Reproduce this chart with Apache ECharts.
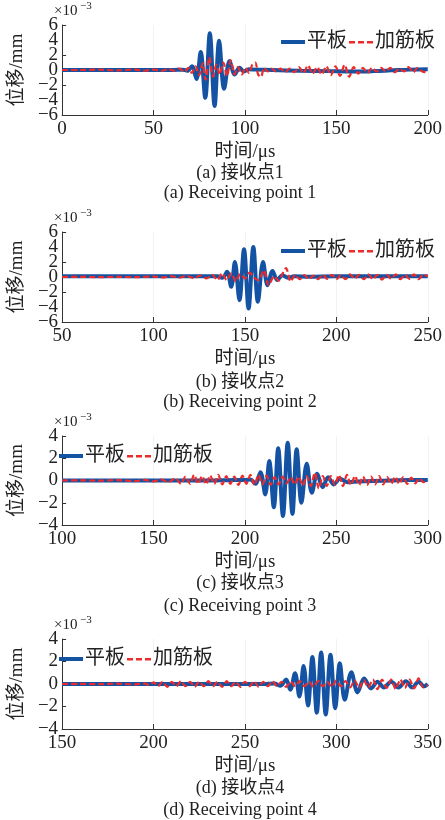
<!DOCTYPE html>
<html>
<head>
<meta charset="utf-8">
<script src="https://cdn.jsdelivr.net/npm/echarts@6/dist/echarts.min.js"></script>
<style>
  html, body { margin: 0; padding: 0; background: #fff; }
  #main { width: 445px; height: 820px; }
</style>
</head>
<body>
<div id="main"></div>
<script>
// 四个接收点的位移时程（单位 ×10^-3 mm）
var tBlue1 = [0, 20, 40, 60, 66, 68.5, 71, 73.5, 75.8, 78.3, 80.8, 83.4, 85.9, 88.6, 91.6, 94.4, 97, 99.5, 102, 106, 115, 130, 145, 160, 170, 180, 190, 200];
var vBlue1 = [0, 0, 0, 0, 0.05, -0.1, 0.5, -1.2, 2.4, -3.7, 4.9, -4.8, 3.9, -2.5, 1.2, -0.6, 0.3, -0.2, 0.1, 0.05, 0, -0.1, -0.15, -0.2, -0.15, -0.05, 0.05, 0.1];
var tRed1 = [0, 10, 20, 30, 40, 45, 50, 55, 58, 61, 64, 67, 69, 71, 73, 75, 76.8, 78.5, 80.5, 82.5, 84.3, 86.2, 88.2, 90.2, 92.2, 94.3, 96.2, 98.3, 100.2, 102.2, 104, 105.7, 107.2, 108.8, 110.5, 112.5, 114.5, 117, 119.5, 122, 124.5, 127, 129.5, 132, 134.5, 137, 139.5, 142, 144.5, 147, 149.5, 152, 154.5, 157, 159.5, 162, 164.5, 167, 169.5, 172, 174.5, 177, 179.5, 182, 184.5, 187, 189.5, 192, 194.5, 197, 200];
var vRed1 = [0, 0, 0.05, -0.05, 0.05, -0.1, 0.05, -0.1, 0.15, -0.1, 0.2, -0.25, 0.3, -0.4, 0.5, -0.7, 0.9, -1.3, 1.7, -0.9, 0.7, -0.6, 1.0, -0.8, 1.3, -0.6, 0.4, -0.6, 0.3, -0.4, 0.7, 1.0, -0.6, -0.9, 0.3, -0.2, 0.2, -0.2, 0.2, -0.3, 0.2, -0.3, 0.4, -0.4, 0.6, -0.5, 0.4, -0.6, 0.5, -0.7, 0.5, -0.8, 0.7, -0.9, 0.4, -0.5, 0.3, -0.4, 0.3, -0.2, 0.3, -0.2, 0.3, -0.3, 0.2, -0.2, 0.4, -0.3, 0.3, -0.2, -0.3];

var tBlue2 = [50, 80, 110, 130, 135, 137.8, 140.2, 142.5, 144.5, 147, 149.5, 152, 154.6, 157.1, 159.9, 162.4, 165.1, 167.7, 170.5, 173.5, 177, 185, 200, 220, 250];
var vBlue2 = [0.1, 0.1, 0.1, 0.1, 0.1, -0.1, 0.7, -1.3, 2.0, -3.1, 3.7, -4.2, 4.0, -3.3, 2.0, -1.1, 0.8, -0.4, 0.25, -0.1, 0.1, 0.05, 0.1, 0.1, 0.1];
var tRed2 = [50, 60, 70, 80, 90, 100, 105, 110, 114, 118, 122, 126, 129, 132, 135, 137.5, 140, 142.5, 145, 147.5, 150, 152.5, 155, 157.5, 160.3, 163, 166, 168.5, 170.5, 172.5, 175, 177.5, 180, 182.5, 185, 187.5, 190, 192.5, 195, 197.5, 200, 202.5, 205, 207.5, 210, 212.5, 215, 217.5, 220, 222.5, 225, 227.5, 230, 232.5, 235, 237.5, 240, 242.5, 245, 247.5, 250];
var vRed2 = [0, 0.02, -0.02, 0.02, -0.02, 0.05, -0.05, 0.1, -0.1, 0.15, -0.15, 0.2, -0.2, 0.3, -0.4, 0.5, -0.4, 0.5, -0.6, 0.4, -0.2, 0.6, -0.1, -0.4, 0.9, -1.1, 0.1, -0.5, 0.4, 1.2, -0.6, 0.3, -0.3, 0.25, -0.3, 0.2, -0.3, 0.3, -0.25, 0.3, -0.3, 0.25, -0.3, 0.35, -0.25, 0.3, -0.3, 0.35, -0.3, 0.3, -0.35, 0.3, -0.25, 0.35, -0.3, 0.3, -0.25, 0.35, -0.3, 0.3, 0.1];

var tBlue3 = [100, 130, 160, 180, 195, 200, 203, 205.8, 208.5, 211.1, 213.3, 215.8, 218.2, 220.8, 223.4, 226, 228.3, 230.9, 233.8, 236.6, 239.5, 242.5, 245.5, 248.5, 252, 256, 262, 270, 280, 290, 300];
var vBlue3 = [0, 0, 0, 0, 0.05, 0.05, 0.1, -0.3, 0.75, -1.25, 1.75, -2.4, 2.9, -3.2, 3.4, -3.0, 2.8, -2.0, 1.5, -1.1, 0.6, -0.6, 0.3, -0.35, 0.15, -0.15, -0.1, -0.05, 0, 0.05, 0.05];
var tRed3 = [100, 110, 120, 130, 140, 145, 150, 154, 158, 162, 165, 167.5, 170, 172.2, 174.4, 176.6, 178.8, 181, 183.2, 185.4, 187.6, 189.8, 192, 194.2, 196.4, 198.6, 200.8, 203, 205.2, 207.4, 209.6, 211.8, 214, 216.2, 218.4, 220.6, 222.8, 225, 227.2, 229.4, 231.6, 233.8, 236, 238.2, 240.4, 242.6, 244.8, 247, 249.2, 251.4, 253.6, 255.8, 258, 260.2, 262.4, 264.6, 266.8, 269, 271.2, 273.4, 275.6, 277.8, 280, 282.2, 284.4, 286.6, 288.8, 291, 293.2, 295.4, 297.6, 300];
var vRed3 = [0, 0.02, -0.02, 0.03, -0.05, 0.05, -0.08, 0.1, -0.15, 0.2, -0.3, 0.35, -0.3, 0.5, -0.3, 0.4, -0.35, 0.45, -0.3, 0.5, -0.35, 0.4, -0.3, 0.35, -0.4, 0.45, -0.3, 0.5, -0.4, 0.5, -0.35, 0.45, -0.4, 0.3, -0.35, 0.35, -0.25, 0.3, -0.35, 0.35, -0.45, 0.4, -0.5, 0.7, -0.7, 0.4, -0.5, 0.4, -0.4, 0.5, -0.5, 0.5, -0.4, 0.4, -0.4, 0.35, -0.4, 0.35, -0.35, 0.4, -0.35, 0.3, -0.3, 0.35, -0.3, 0.3, -0.3, 0.25, -0.25, 0.2, -0.15, 0.05];

var tBlue4 = [150, 180, 210, 240, 260, 266, 269.5, 272.5, 274.8, 277.4, 279.8, 282.1, 284.5, 286.9, 289.3, 291.7, 294.2, 296.8, 299.4, 301.9, 304.6, 308.2, 311.6, 315.2, 319, 322.5, 326, 330, 334, 338, 341.5, 345, 348, 350];
var vBlue4 = [0, 0, 0, 0, 0, 0.05, -0.15, 0.4, -0.5, 0.95, -1.1, 1.6, -1.9, 2.4, -2.55, 2.8, -2.7, 2.6, -2.15, 1.85, -1.4, 1.05, -0.75, 0.5, -0.4, 0.2, -0.3, 0.2, -0.3, 0.25, -0.3, 0.2, -0.2, 0];
var tRed4 = [150, 160, 170, 180, 190, 195, 197.5, 200, 202.5, 205, 207.5, 210, 212.5, 215, 217.5, 220, 222.5, 225, 227.5, 230, 232.5, 235, 237.5, 240, 242.5, 245, 247.5, 250, 252.5, 255, 257.5, 260, 262.5, 265, 267.5, 270, 272.5, 275, 277.5, 280, 282.5, 285, 287.5, 290, 292.5, 295, 297.5, 300, 302.5, 305, 307.5, 310, 312.5, 315, 317.5, 320, 322.5, 325, 327.5, 330, 332.5, 335, 337.5, 340, 342.5, 345, 347.5, 350];
var vRed4 = [0, 0.02, -0.02, 0.03, -0.03, 0.05, -0.1, 0.15, -0.2, 0.2, -0.25, 0.2, -0.2, 0.25, -0.2, 0.2, -0.25, 0.2, -0.2, 0.25, -0.2, 0.2, -0.25, 0.25, -0.2, 0.2, -0.25, 0.2, -0.2, 0.25, -0.25, 0.2, -0.2, 0.25, -0.2, 0.2, -0.25, 0.2, -0.2, 0.25, -0.2, 0.2, -0.25, 0.25, -0.2, 0.2, -0.25, 0.3, -0.2, 0.25, -0.3, 0.3, -0.35, 0.35, -0.3, 0.4, -0.45, 0.4, -0.35, 0.4, -0.45, 0.4, -0.35, 0.4, -0.4, 0.5, -0.3, -0.1];

var xMins = [0, 50, 100, 150];
var xMaxs = [200, 250, 300, 350];
var yLims = [6, 6, 4, 4];
var yTicks = [[-6, -4, -2, 0, 2, 4, 6], [-6, -4, -2, 0, 2, 4, 6], [-4, -2, 0, 2, 4], [-4, -2, 0, 2, 4]];
// 被重叠检测隐去的刻度值，用一根只画标签的副轴补上
var yExtraLabels = [[-4, 4], [-4, 4], [], []];
var seriesNames = ['平板', '加筋板'];
var captionsCn = ['(a) 接收点1', '(b) 接收点2', '(c) 接收点3', '(d) 接收点4'];
var captionsEn = ['(a) Receiving point 1', '(b) Receiving point 2', '(c) Receiving point 3', '(d) Receiving point 4'];

var blueT = [tBlue1, tBlue2, tBlue3, tBlue4], blueV = [vBlue1, vBlue2, vBlue3, vBlue4];
var redT = [tRed1, tRed2, tRed3, tRed4], redV = [vRed1, vRed2, vRed3, vRed4];

var FONT = "'Liberation Serif', 'Noto Sans CJK SC', serif";
var BLUE = '#1452a3', RED = '#ee2a2a';
var gridTops = [25, 232, 436, 639];
var gridHeights = [90, 90, 89, 90];
var legendPos = [{left: 281, top: 32}, {left: 281, top: 241}, {left: 59, top: 446}, {left: 59, top: 649}];
var capCnY = [173, 382, 583, 788];
var capEnY = [193, 402, 606, 810];
// 图例图标：实线 / 短划线（先用 M 撑开 24x10 的包围盒）
var ICON_SOLID = 'path://M0,0M24,10M0,3h24v4h-24z';
var ICON_DASH = 'path://M0,0M24,10M0,4h6v2.4h-6zM9,4h6v2.4h-6zM18,4h6v2.4h-6z';

function pairs(t, v) { return t.map(function (x, i) { return [x, v[i]]; }); }
function minusFmt(v) { return String(v).replace('-', '−'); }

var chart = echarts.init(document.getElementById('main'));
var grid = [], xAxis = [], yAxis = [], extraY = [], series = [], legend = [], graphic = [];

for (var i = 0; i < 4; i++) {
    grid.push({left: 50, top: gridTops[i], width: 381, height: gridHeights[i], containLabel: false});
    xAxis.push({
        type: 'value', gridIndex: i, min: xMins[i], max: xMaxs[i], interval: 50,
        name: '时间/μs', nameLocation: 'middle', nameGap: 28,
        nameTextStyle: {fontFamily: FONT, fontSize: 19, color: '#222'},
        axisLine: {onZero: false, lineStyle: {color: '#333', width: 1}},
        axisTick: {inside: true, length: 5, lineStyle: {color: '#333'}},
        axisLabel: {fontFamily: FONT, fontSize: 19, color: '#222', margin: 5,
            showMinLabel: true, showMaxLabel: true, hideOverlap: false},
        splitLine: {show: true, lineStyle: {color: '#f2f2f2'}}
    });
    yAxis.push({
        type: 'value', gridIndex: i, min: -yLims[i], max: yLims[i], interval: 2,
        name: '位移/mm', nameLocation: 'middle', nameGap: 22,
        nameTextStyle: {fontFamily: FONT, fontSize: 19, color: '#222'},
        axisLine: {onZero: false, lineStyle: {color: '#333', width: 1}},
        axisTick: {inside: true, length: 4, lineStyle: {color: '#333'}, customValues: yTicks[i]},
        axisLabel: {fontFamily: FONT, fontSize: 19, color: '#222', margin: 4, interval: 0,
            customValues: yTicks[i], hideOverlap: false, showMinLabel: true, showMaxLabel: true,
            formatter: minusFmt},
        splitLine: {show: false}
    });
    if (yExtraLabels[i].length) {
        extraY.push({
            type: 'value', gridIndex: i, position: 'left', offset: 0,
            min: -yLims[i], max: yLims[i], interval: 2,
            axisLine: {show: false}, axisTick: {show: false}, splitLine: {show: false},
            axisLabel: {fontFamily: FONT, fontSize: 19, color: '#222', margin: 4,
                customValues: yExtraLabels[i], formatter: minusFmt}
        });
    }
    series.push({
        name: seriesNames[0], type: 'line', xAxisIndex: i, yAxisIndex: i,
        data: pairs(blueT[i], blueV[i]), showSymbol: false, symbol: 'none', smooth: 0.35,
        lineStyle: {color: BLUE, width: 4}, itemStyle: {color: BLUE}, z: 2
    });
    series.push({
        name: seriesNames[1], type: 'line', xAxisIndex: i, yAxisIndex: i,
        data: pairs(redT[i], redV[i]), showSymbol: false, symbol: 'none', smooth: 0.3,
        lineStyle: {color: RED, width: 2.2, type: [6, 3]}, itemStyle: {color: RED}, z: 3
    });
    legend.push({
        data: [{name: seriesNames[0], icon: ICON_SOLID}, {name: seriesNames[1], icon: ICON_DASH}],
        left: legendPos[i].left, top: legendPos[i].top,
        itemWidth: 24, itemHeight: 10, itemGap: 2, padding: 0,
        textStyle: {fontFamily: FONT, fontSize: 20, color: '#222', padding: [0, 0, 0, -3]},
        selectedMode: false
    });
    graphic.push({type: 'text', left: 54, top: gridTops[i] - 21,
        style: {text: '×10', font: '15px ' + FONT, fill: '#222'}});
    graphic.push({type: 'text', left: 80, top: gridTops[i] - 24,
        style: {text: '−3', font: '11px ' + FONT, fill: '#222'}});
    graphic.push({type: 'text', x: 240, y: capCnY[i],
        style: {text: captionsCn[i], font: '18px ' + FONT, fill: '#222', textAlign: 'center', textVerticalAlign: 'middle'}});
    graphic.push({type: 'text', x: 240, y: capEnY[i],
        style: {text: captionsEn[i], font: '18px ' + FONT, fill: '#222', textAlign: 'center', textVerticalAlign: 'middle'}});
}

chart.setOption({
    backgroundColor: '#fff',
    animation: false,
    grid: grid, xAxis: xAxis, yAxis: yAxis.concat(extraY), series: series, legend: legend, graphic: graphic
});
</script>
</body>
</html>
